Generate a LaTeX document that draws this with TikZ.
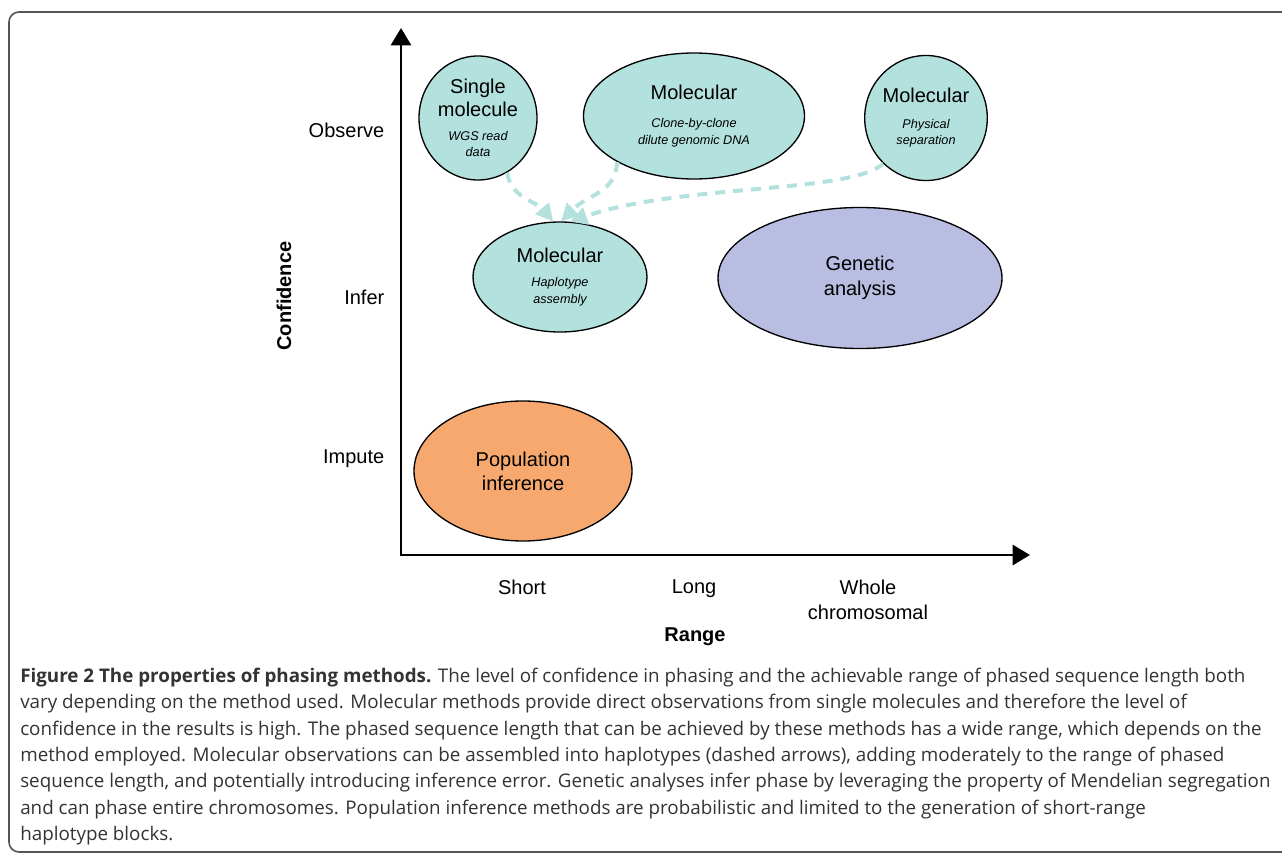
\documentclass[tikz,border=0pt]{standalone}
\usepackage{fontspec}
\setmainfont{Liberation Sans}
\newfontfamily\capfont{Open Sans}
\usetikzlibrary{shapes.geometric,arrows.meta}
\definecolor{tealfill}{HTML}{B3E1DD}
\definecolor{purplefill}{HTML}{B9BDE1}
\definecolor{orangefill}{HTML}{F7A86F}
\definecolor{dashteal}{HTML}{B3E1DD}
\definecolor{framegray}{HTML}{555555}
\definecolor{captext}{HTML}{333333}
\newcommand{\subtxt}[1]{{\fontsize{9.5}{11}\itshape\selectfont #1}}
\begin{document}
\begin{tikzpicture}[x=0.75pt,y=-0.75pt,
		blob_style/.style 2 args={ellipse,draw=black,line width=1pt,inner sep=0pt,align=center,
			minimum width=#1*0.75pt,minimum height=#2*0.75pt,font=\fontsize{15}{17}\selectfont},
		tick_style/.style={font=\fontsize{15}{17}\selectfont,align=center},
		title_style/.style={font=\fontsize{15}{17}\selectfont\bfseries},
		axis_style/.style={line width=2.2pt,{Triangle[length=13pt,width=15pt]}-{Triangle[length=13pt,width=15pt]}},
		dash_style/.style={draw=dashteal,line width=3pt,dash pattern=on 7.5pt off 6pt,-{Triangle[length=13pt,width=13pt]}},
		frame_style/.style={draw=framegray,line width=1.2pt,rounded corners=7.5pt}]
		
		\useasboundingbox (0,0) rectangle (1282,853);
		\draw[frame_style] (1290,12) -- (9,12) -- (9,852) -- (1290,852);
		
		\coordinate (ytop) at (401,28);
		\coordinate (origin) at (401,555);
		\coordinate (xend) at (1030,555);
		\draw[axis_style] (ytop) -- (origin) -- (xend);
		
		\node[tick_style,anchor=east] (observe) at (389,130) {Observe};
		\node[tick_style,anchor=east] (infer) at (389,297) {Infer};
		\node[tick_style,anchor=east] (impute) at (389,459) {Impute};
		\node[tick_style,anchor=north] (short) at (522,575) {Short};
		\node[tick_style,anchor=north] (long) at (694,575) {Long};
		\node[tick_style,anchor=north] (whole) at (868,575) {Whole\\[2pt]chromosomal};
		\node[title_style] (range) at (695,637) {Range};
		\node[title_style,rotate=90] (confidence) at (284,296) {Confidence};
		
		\node[blob_style={118}{124},fill=tealfill] (single) at (478,118)
			{Single\\molecule\\[1pt]\subtxt{WGS read}\\[-5pt]\subtxt{data}};
		\node[blob_style={221}{126},fill=tealfill] (clone) at (694,116)
			{Molecular\\[4pt]\subtxt{Clone-by-clone}\\[-4pt]\subtxt{dilute genomic DNA}};
		\node[blob_style={120}{125},fill=tealfill] (physical) at (926,118)
			{Molecular\\[2.5pt]\subtxt{Physical}\\[-5pt]\subtxt{separation}};
		\node[blob_style={174}{110},fill=tealfill] (haplo) at (560,277)
			{Molecular\\[1pt]\subtxt{Haplotype}\\[-4pt]\subtxt{assembly}};
		\node[blob_style={284}{141},fill=purplefill] (genetic) at (860,278)
			{Genetic\\[2pt]analysis};
		\node[blob_style={218}{140},fill=orangefill] (population) at (523,471)
			{Population\\[1pt]inference};
		
		\draw[dash_style] (single.-62) to[out=-80,in=130] (haplo.97);
		\draw[dash_style] (clone.-149) .. controls +(-3,32) and +(28,-28) .. (haplo.89);
		\draw[dash_style] (physical.-133) .. controls +(-35,30) and +(110,-38) .. (haplo.80);
		
		\node[anchor=north west,align=left,text=captext,inner sep=0pt,
			font=\capfont\fontsize{14.1}{19.75}\selectfont] (caption) at (20,668)
			{\textbf{Figure 2 The properties of phasing methods.} The level of confidence in phasing and the achievable range of phased sequence length both\\
			vary depending on the method used. Molecular methods provide direct observations from single molecules and therefore the level of\\
			confidence in the results is high. The phased sequence length that can be achieved by these methods has a wide range, which depends on the\\
			method employed. Molecular observations can be assembled into haplotypes (dashed arrows), adding moderately to the range of phased\\
			sequence length, and potentially introducing inference error. Genetic analyses infer phase by leveraging the property of Mendelian segregation\\
			and can phase entire chromosomes. Population inference methods are probabilistic and limited to the generation of short-range\\
			haplotype blocks.};
		
\end{tikzpicture}
\end{document}
